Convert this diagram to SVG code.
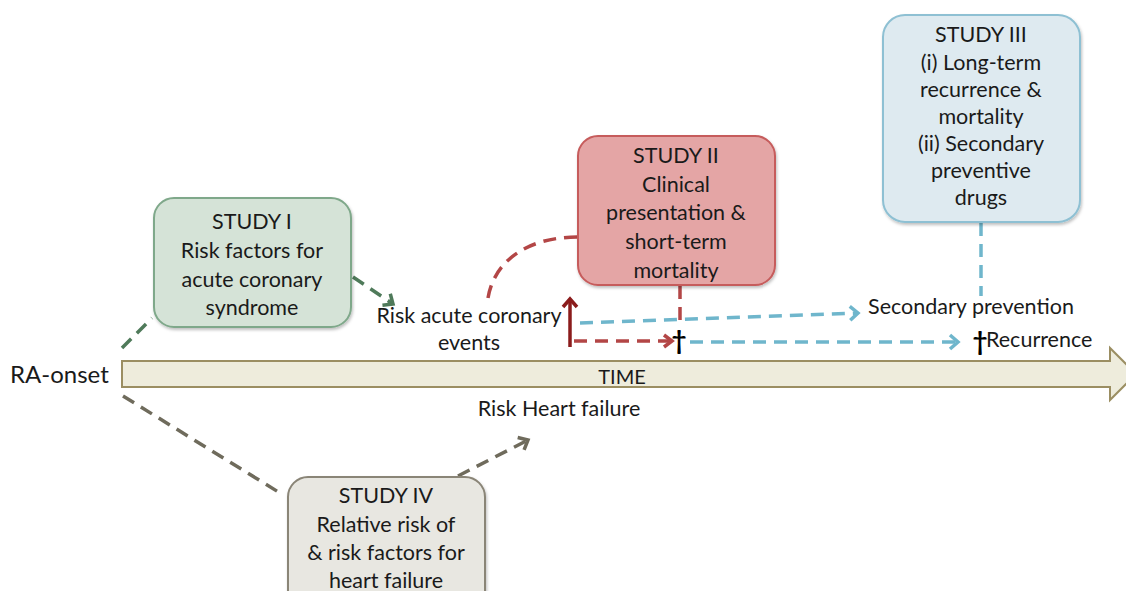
<svg xmlns="http://www.w3.org/2000/svg" width="1126" height="591" viewBox="0 0 1126 591">
<style>
text{font-family:Lato,"Open Sans","Liberation Sans",sans-serif;fill:#1a1a1a;}
.box text{font-size:21.5px;text-anchor:middle;}
.lbl{font-size:21.5px;}
.dash{fill:none;stroke-width:3.5;stroke-dasharray:13 8;}
.g{stroke:#4f7a5a;}
.r{stroke:#b34646;}
.b{stroke:#6fb6cc;}
.k{stroke:#6f6b5c;}
</style>
<defs>
<filter id="sh" x="-10%" y="-10%" width="130%" height="130%"><feDropShadow dx="1" dy="2" stdDeviation="1.5" flood-color="#000" flood-opacity="0.25"/></filter>
<marker id="mg" markerUnits="userSpaceOnUse" markerWidth="20" markerHeight="20" refX="10" refY="10" orient="auto"><path d="M2,3 L10,10 L2,17" fill="none" stroke="#4f7a5a" stroke-width="3.5"/></marker>
<marker id="mr" markerUnits="userSpaceOnUse" markerWidth="20" markerHeight="20" refX="10" refY="10" orient="auto"><path d="M2,4 L10,10 L2,16" fill="none" stroke="#b34646" stroke-width="3.5"/></marker>
<marker id="mdr" markerUnits="userSpaceOnUse" markerWidth="20" markerHeight="20" refX="10" refY="10" orient="auto"><path d="M2,3 L10,10 L2,17" fill="none" stroke="#8b1c1c" stroke-width="3.5"/></marker>
<marker id="mb" markerUnits="userSpaceOnUse" markerWidth="20" markerHeight="20" refX="10" refY="10" orient="auto"><path d="M2,3 L10,10 L2,17" fill="none" stroke="#6fb6cc" stroke-width="3.5"/></marker>
<marker id="mk" markerUnits="userSpaceOnUse" markerWidth="20" markerHeight="20" refX="10" refY="10" orient="auto"><path d="M2,3 L10,10 L2,17" fill="none" stroke="#6f6b5c" stroke-width="3.5"/></marker>
</defs>
<rect width="1126" height="591" fill="#ffffff"/>

<g id="timeline">
<polygon points="122,361 1110,361 1110,348 1136,374 1110,400 1110,387 122,387" fill="#eeecdc" stroke="#9b8e62" stroke-width="2"/>
<text x="622" y="384" font-size="20" text-anchor="middle">TIME</text>
</g>

<g id="labels">
<text x="10" y="383" font-size="24">RA-onset</text>
<text class="lbl" x="469" y="323" text-anchor="middle">Risk acute coronary</text>
<text class="lbl" x="469" y="350" text-anchor="middle">events</text>
<text class="lbl" x="559" y="416" text-anchor="middle">Risk Heart failure</text>
<text class="lbl" x="971" y="314" text-anchor="middle">Secondary prevention</text>
<text class="lbl" x="986" y="347">Recurrence</text>
</g>

<g id="connectors">
<path class="dash g" d="M122,348 L152,318"/>
<path class="dash g" d="M353,277 L393,304" marker-end="url(#mg)"/>
<path class="dash r" d="M488,298 C494,262 526,237 578,237"/>
<path d="M570,347 L570,299" fill="none" stroke="#8b1c1c" stroke-width="3.5" marker-end="url(#mdr)"/>
<path class="dash r" d="M680,286 L680,320"/>
<path class="dash b" d="M580,323 L858,313" marker-end="url(#mb)"/>
<path class="dash b" d="M690,342 L958,342" marker-end="url(#mb)"/>
<path class="dash r" d="M574,341 L672,341" marker-end="url(#mr)"/>
<path class="dash b" d="M981,223 L981,296"/>
<path class="dash k" d="M123,396 L280,493"/>
<path class="dash k" d="M458,476 L528,440" marker-end="url(#mk)"/>
</g>

<g id="daggers">
<text x="679" y="350" font-size="26" text-anchor="middle" font-weight="bold" style="fill:#000">†</text>
<text x="980" y="351" font-size="26" text-anchor="middle" font-weight="bold" style="fill:#000">†</text>
</g>

<g id="study1" class="box">
<rect x="154" y="198" width="197" height="129" rx="20" fill="#d5e3d7" stroke="#7fa88a" stroke-width="2" filter="url(#sh)"/>
<text x="252" y="229">STUDY I</text>
<text x="252" y="258">Risk factors for</text>
<text x="252" y="287">acute coronary</text>
<text x="252" y="315">syndrome</text>
</g>

<g id="study2" class="box">
<rect x="578" y="136" width="197" height="149" rx="20" fill="#e4a5a5" stroke="#c65b5b" stroke-width="2" filter="url(#sh)"/>
<text x="676" y="163">STUDY II</text>
<text x="676" y="192">Clinical</text>
<text x="676" y="220">presentation &amp;</text>
<text x="676" y="249">short-term</text>
<text x="676" y="278">mortality</text>
</g>

<g id="study3" class="box">
<rect x="883" y="15" width="197" height="207" rx="22" fill="#deeaf0" stroke="#8ec0d3" stroke-width="2" filter="url(#sh)"/>
<text x="981" y="42">STUDY III</text>
<text x="981" y="70">(i) Long-term</text>
<text x="981" y="97">recurrence &amp;</text>
<text x="981" y="124">mortality</text>
<text x="981" y="151">(ii) Secondary</text>
<text x="981" y="178">preventive</text>
<text x="981" y="205">drugs</text>
</g>

<g id="study4" class="box">
<rect x="288" y="477" width="197" height="135" rx="20" fill="#e8e7e1" stroke="#8a8577" stroke-width="2" filter="url(#sh)"/>
<text x="386" y="503">STUDY IV</text>
<text x="386" y="532">Relative risk of</text>
<text x="386" y="560">&amp; risk factors for</text>
<text x="386" y="588">heart failure</text>
</g>
</svg>
